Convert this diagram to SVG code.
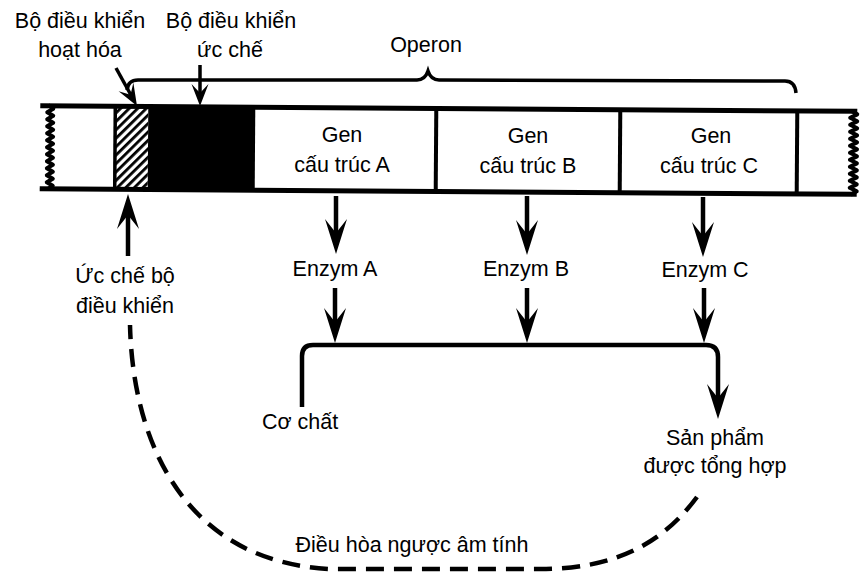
<svg xmlns="http://www.w3.org/2000/svg" xmlns:xlink="http://www.w3.org/1999/xlink" width="860" height="576" viewBox="0 0 860 576">
<style>
  text { font-family: "Liberation Sans", Arial, sans-serif; font-size: 21.5px; fill: #000; text-anchor: middle; }
  .ln { stroke: #000; stroke-width: 4.5; fill: none; }
  .thin { stroke: #000; stroke-width: 3.5; fill: none; }
  .dash { stroke: #000; stroke-width: 4.5; fill: none; stroke-dasharray: 18 10; }
  .wave { stroke: #000; stroke-width: 4; fill: none; stroke-linejoin: round; }
</style>
<defs>
  <pattern id="hatch" width="6" height="6" patternUnits="userSpaceOnUse" patternTransform="rotate(45)">
    <rect width="6" height="6" fill="#fff"/>
    <rect width="2.8" height="6" fill="#000"/>
  </pattern>
  <path id="ah" d="M0,0 L-11,-35 L0,-21 L11,-35 Z" fill="#000"/>
  <path id="ahs" d="M0,0 L-8.5,-22 L0,-13 L8.5,-22 Z" fill="#000"/>
</defs>
<rect width="860" height="576" fill="#fff"/>

<!-- DNA strip -->
<g id="strip" transform="rotate(0.4 450 150)">
  <g id="activator">
    <rect x="115" y="108" width="33" height="83" fill="url(#hatch)"/>
    <line x1="115" y1="108" x2="115" y2="192" stroke="#000" stroke-width="3.5"/>
  </g>
  <g id="operator">
    <rect x="148" y="108" width="107" height="83" fill="#000"/>
  </g>
  <g id="geneA-box"><line x1="436" y1="108" x2="436" y2="192" stroke="#000" stroke-width="4"/></g>
  <g id="geneB-box"><line x1="620" y1="108" x2="620" y2="192" stroke="#000" stroke-width="4"/></g>
  <g id="geneC-box"><line x1="797" y1="108" x2="797" y2="192" stroke="#000" stroke-width="4"/></g>
  <path d="M40 108.5 H857" stroke="#000" stroke-width="5"/>
  <path d="M40 191.5 H857" stroke="#000" stroke-width="5"/>
  <path class="wave" d="M48 108 l5 3.5 l-6 3.5 l6 3.5 l-6 3.5 l6 3.5 l-6 3.5 l6 3.5 l-6 3.5 l6 3.5 l-6 3.5 l6 3.5 l-6 3.5 l6 3.5 l-6 3.5 l6 3.5 l-6 3.5 l6 3.5 l-6 3.5 l6 3.5 l-6 3.5 l6 3.5 l-6 3.5 l6 3.5 l-5 3.5"/>
  <path class="wave" stroke-width="4.5" d="M851 108 l6 3.5 l-7 3.5 l7 3.5 l-7 3.5 l7 3.5 l-7 3.5 l7 3.5 l-7 3.5 l7 3.5 l-7 3.5 l7 3.5 l-7 3.5 l7 3.5 l-7 3.5 l7 3.5 l-7 3.5 l7 3.5 l-7 3.5 l7 3.5 l-7 3.5 l7 3.5 l-7 3.5 l7 3.5 l-6 3.5"/>
</g>

<!-- labels -->
<g id="activator-label">
  <text x="80" y="28">Bộ điều khiển</text>
  <text x="80" y="57">hoạt hóa</text>
</g>
<g id="operator-label">
  <text x="231" y="28">Bộ điều khiển</text>
  <text x="230" y="57">ức chế</text>
</g>
<g id="operon">
  <text x="426" y="52">Operon</text>
  <path class="thin" d="M127 90 Q128 80 138 80 L417 80 Q425 80 428 71 Q431 80 439 80 L785 81 Q795 81 796 93"/>
</g>
<g id="geneA">
  <text x="342" y="142">Gen</text>
  <text x="342" y="172">cấu trúc A</text>
</g>
<g id="geneB">
  <text x="528" y="143">Gen</text>
  <text x="528" y="173">cấu trúc B</text>
</g>
<g id="geneC">
  <text x="711" y="143">Gen</text>
  <text x="709" y="173">cấu trúc C</text>
</g>
<g id="enzymeA"><text x="335" y="276">Enzym A</text></g>
<g id="enzymeB"><text x="526" y="276">Enzym B</text></g>
<g id="enzymeC"><text x="705" y="277">Enzym C</text></g>
<g id="inhibit-label">
  <text x="125" y="283">Ức chế bộ</text>
  <text x="125" y="313">điều khiển</text>
</g>
<g id="substrate"><text x="300" y="429">Cơ chất</text></g>
<g id="product">
  <text x="715" y="445">Sản phẩm</text>
  <text x="715" y="473">được tổng hợp</text>
</g>
<g id="feedback-label"><text x="412" y="552">Điều hòa ngược âm tính</text></g>

<!-- connectors -->
<g id="connectors">
  <line class="thin" x1="116" y1="68" x2="132" y2="97"/>
  <use xlink:href="#ahs" transform="translate(137,106) rotate(-30)"/>
  <line class="thin" x1="200" y1="65" x2="200" y2="96"/>
  <use xlink:href="#ahs" transform="translate(200,106)"/>
  <line class="ln" x1="336" y1="196" x2="336" y2="240"/>
  <use xlink:href="#ah" transform="translate(336,254)"/>
  <line class="ln" x1="527" y1="196" x2="527" y2="240"/>
  <use xlink:href="#ah" transform="translate(527,255)"/>
  <line class="ln" x1="703" y1="197" x2="703" y2="242"/>
  <use xlink:href="#ah" transform="translate(703,257)"/>
  <line class="ln" x1="335" y1="288" x2="335" y2="330"/>
  <use xlink:href="#ah" transform="translate(335,343)"/>
  <line class="ln" x1="527" y1="288" x2="527" y2="330"/>
  <use xlink:href="#ah" transform="translate(527,343)"/>
  <line class="ln" x1="704" y1="288" x2="704" y2="330"/>
  <use xlink:href="#ah" transform="translate(704,343)"/>
  <path class="ln" d="M302 407 V356 Q302 345 313 345 H706 Q718 345 718 357 V400"/>
  <use xlink:href="#ah" transform="translate(718,419)"/>
  <path class="dash" d="M697 497 C665 540 620 569 540 569 L330 569 C190 562 133 450 130 325"/>
  <line class="ln" x1="128" y1="256" x2="128" y2="215"/>
  <use xlink:href="#ah" transform="translate(128,194) rotate(180)"/>
</g>
</svg>
